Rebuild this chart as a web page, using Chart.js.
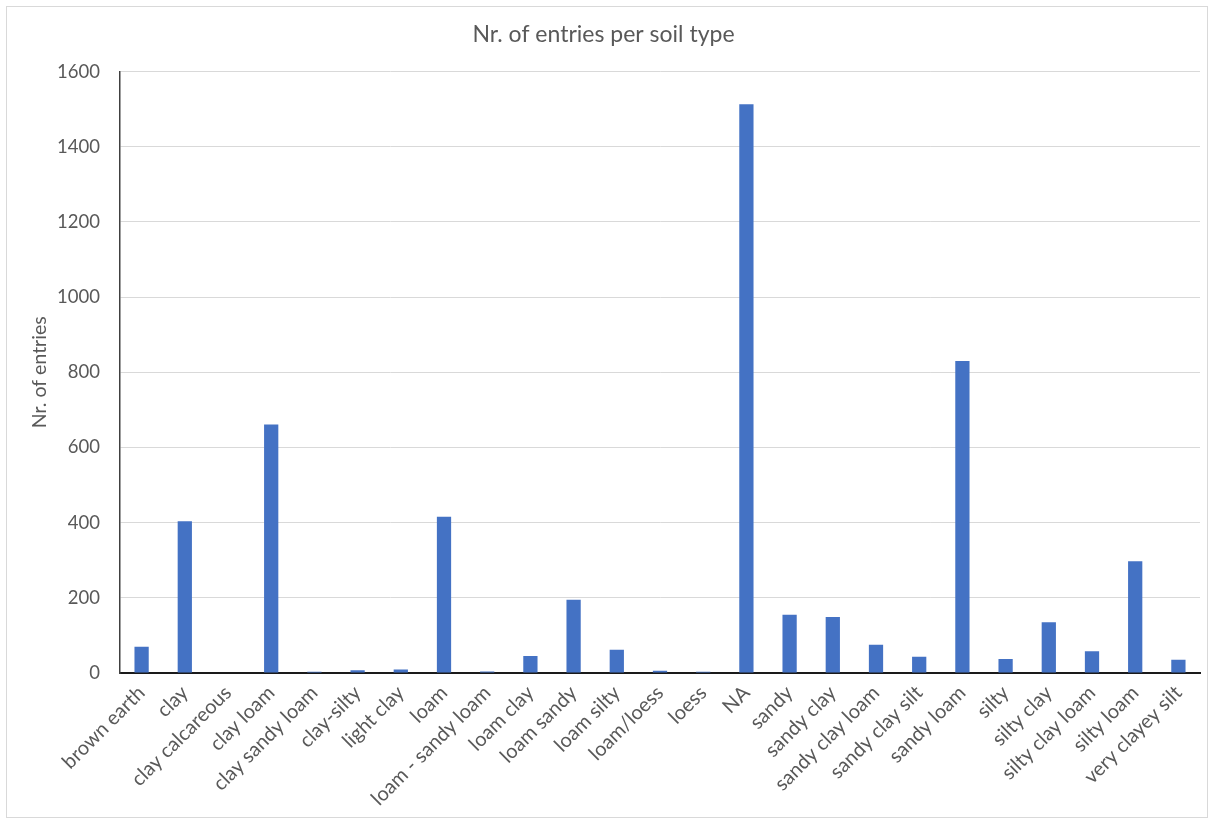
<!DOCTYPE html>
<html>
<head>
<meta charset="utf-8">
<title>Nr. of entries per soil type</title>
<script src="https://cdn.jsdelivr.net/npm/chart.js@4.4.1/dist/chart.umd.min.js"></script>
<style>
  html, body { margin: 0; padding: 0; background: #fff; }
  #frame {
    position: absolute; left: 6px; top: 6px;
    width: 1200px; height: 810px;
    border: 1px solid #d9d9d9;
  }
</style>
</head>
<body>
<div id="frame"><canvas id="soil-chart"></canvas></div>
<script>
// soil types and the number of entries for each
const soilTypes = [
  'brown earth', 'clay', 'clay calcareous', 'clay loam', 'clay sandy loam',
  'clay-silty', 'light clay', 'loam', 'loam - sandy loam', 'loam clay',
  'loam sandy', 'loam silty', 'loam/loess', 'loess', 'NA', 'sandy',
  'sandy clay', 'sandy clay loam', 'sandy clay silt', 'sandy loam', 'silty',
  'silty clay', 'silty clay loam', 'silty loam', 'very clayey silt'
];
const entryCounts = [
  70, 404, 0, 661, 3,
  7, 9, 416, 4, 45,
  195, 62, 6, 3, 1513, 155,
  149, 75, 43, 830, 37,
  135, 58, 297, 35
];
const yTicks = [0, 200, 400, 600, 800, 1000, 1200, 1400, 1600];

const FONT = 'Lato, "Open Sans", sans-serif';
const GREY = '#595959';

const ctx = document.getElementById('soil-chart').getContext('2d');
window.soilChart = new Chart(ctx, {
  type: 'bar',
  data: {
    labels: soilTypes,
    datasets: [{
      label: 'Nr. of entries',
      data: entryCounts,
      backgroundColor: '#4472C4',
      borderWidth: 0,
      barPercentage: 0.33,
      categoryPercentage: 1
    }]
  },
  options: {
    responsive: true,
    maintainAspectRatio: false,
    animation: false,
    layout: { padding: { left: 0, right: 7, top: 0, bottom: 0 } },
    plugins: {
      legend: { display: false },
      tooltip: { enabled: false },
      title: {
        display: true,
        text: 'Nr. of entries per soil type',
        color: GREY,
        font: { family: FONT, size: 23, weight: 'normal' },
        padding: { top: 14, bottom: 23 }
      }
    },
    scales: {
      x: {
        grid: { display: false, drawTicks: false },
        border: { display: true, color: '#1a1a1a', width: 2 },
        ticks: {
          autoSkip: false,
          minRotation: 45,
          maxRotation: 45,
          padding: 8,
          color: GREY,
          font: { family: FONT, size: 20 }
        },
        afterFit: (scale) => { scale.height = 144; }
      },
      y: {
        min: 0,
        max: 1600,
        afterBuildTicks: (scale) => { scale.ticks = yTicks.map(v => ({ value: v })); },
        grid: { color: '#d9d9d9', lineWidth: 1, drawTicks: false },
        border: { display: true, color: '#404040', width: 1.5 },
        ticks: {
          padding: 20,
          color: GREY,
          font: { family: FONT, size: 18.5 },
          callback: (v) => String(v)
        },
        title: {
          display: true,
          text: 'Nr. of entries',
          color: GREY,
          font: { family: FONT, size: 19.5 },
          padding: { top: 21, bottom: 0 }
        },
        afterFit: (scale) => { scale.width = 113; }
      }
    }
  }
});
</script>
</body>
</html>
